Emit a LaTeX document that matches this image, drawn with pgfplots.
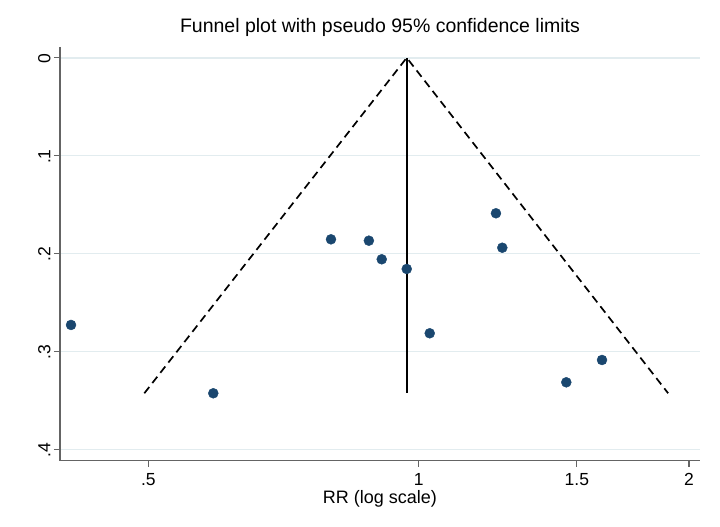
\documentclass[border=0pt]{standalone}
\usepackage{pgfplots}
\pgfplotsset{compat=1.18}
\usepackage{fontspec}
\setmainfont{Liberation Sans}
\definecolor{gridc}{RGB}{226,236,239}
\definecolor{axc}{RGB}{100,100,100}
\definecolor{dotc}{RGB}{26,71,111}
\begin{document}
\begin{tikzpicture}
\path[use as bounding box] (-60pt,-66.3pt) rectangle (660pt,460.7pt);
\begin{axis}[
  at={(0,0)}, anchor=south west,
  scale only axis, width=640pt, height=413.7pt,
  xmode=log, xmin=0.3986, xmax=2.057,
  y dir=reverse, ymin=-0.011, ymax=0.4117,
  axis x line*=bottom, axis y line*=left,
  axis line style={axc, line width=1.2pt, -},
  xtick={0.5,1,1.5,2}, xticklabels={.5,1,1.5,2},
  ytick={0,0.1,0.2,0.3,0.4}, yticklabels={0,.1,.2,.3,.4},
  minor xtick={},
  tick align=outside, major tick length=6pt,
  tick style={axc, line width=1.2pt},
  ymajorgrids, major grid style={gridc, line width=1.5pt},
  /pgf/number format/assume math mode=true,
  ticklabel style={font=\fontsize{17.5}{20}\selectfont},
  xticklabel style={yshift=-3pt},
  yticklabel style={rotate=90, anchor=south, xshift=-1pt},
  xlabel={RR (log scale)},
  xlabel style={font=\fontsize{18}{21}\selectfont, yshift=2pt},
  title={Funnel plot with pseudo 95\% confidence limits},
  title style={font=\fontsize{19.5}{23}\selectfont, at={(0.5,1)}, anchor=center, yshift=14pt},
  clip=false,
]
\addplot[black, line width=1.7pt, dash pattern=on 8pt off 5pt] coordinates {(0.4948,0.3428) (0.9697,0) (1.896,0.3428)};
\addplot[black, line width=1.7pt] coordinates {(0.9697,0) (0.9697,0.3428)};
\addplot[only marks, mark=*, mark size=5pt, dotc, mark options={draw=dotc, fill=dotc}] coordinates {
(0.410,0.273)
(0.5905,0.3428)
(0.7986,0.1855)
(0.880,0.1869)
(0.9095,0.2059)
(0.9697,0.2158)
(1.219,0.1589)
(1.239,0.1941)
(1.0286,0.2815)
(1.460,0.3316)
(1.600,0.3088)
};
\end{axis}
\end{tikzpicture}
\end{document}
